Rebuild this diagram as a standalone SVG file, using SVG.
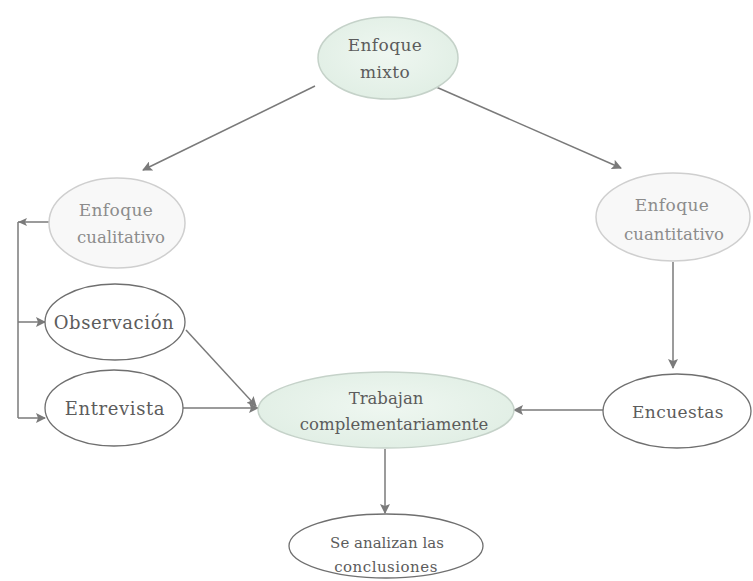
<svg xmlns="http://www.w3.org/2000/svg" width="753" height="581" viewBox="0 0 753 581">
<defs>
<radialGradient id="g" cx="50%" cy="45%" r="60%">
<stop offset="0" stop-color="#eff7f1"/>
<stop offset="1" stop-color="#e0eee4"/>
</radialGradient>
<marker id="ah" viewBox="0 0 10 10" refX="9" refY="5" markerWidth="10" markerHeight="10" markerUnits="userSpaceOnUse" orient="auto">
<path d="M0,0 L10,5 L0,10 L2,5 z" fill="#7a7a7a"/>
</marker>
<style>
.t{font-family:'DejaVu Serif',serif;fill:#5c5c5c;text-anchor:middle;font-size:16.5px}
.tl{fill:#8c8c8c}
.e{font-size:17px;letter-spacing:0.4px}
.big{font-size:18px;letter-spacing:0.6px}
.sm{font-size:15px}
.green{fill:url(#g);stroke:#c5d2c9;stroke-width:1.5}
.light{fill:#f8f8f8;stroke:#cfcfcf;stroke-width:1.5}
.plain{fill:#ffffff;stroke:#6f6f6f;stroke-width:1.3}
.c{fill:none;stroke:#7a7a7a;stroke-width:1.5}
</style>
</defs>
<rect width="753" height="581" fill="#ffffff"/>
<g id="connectors">
<line class="c" x1="315" y1="86" x2="143" y2="170" marker-end="url(#ah)"/>
<line class="c" x1="427" y1="83" x2="621" y2="168" marker-end="url(#ah)"/>
<line class="c" x1="673" y1="262" x2="673" y2="368" marker-end="url(#ah)"/>
<line class="c" x1="603" y1="410" x2="514" y2="410" marker-end="url(#ah)"/>
<line class="c" x1="183" y1="408" x2="258" y2="408" marker-end="url(#ah)"/>
<line class="c" x1="186" y1="330" x2="256" y2="406" marker-end="url(#ah)"/>
<line class="c" x1="385" y1="449" x2="385" y2="513" marker-end="url(#ah)"/>
<polyline class="c" points="49,222 18,222"/>
<path d="M18,222 L27,218 L25,222 L27,226 z" fill="#7a7a7a"/>
<polyline class="c" points="18,222 18,418"/>
<line class="c" x1="18" y1="322" x2="45" y2="322" marker-end="url(#ah)"/>
<line class="c" x1="18" y1="418" x2="45" y2="418" marker-end="url(#ah)"/>
</g>
<g id="mixto">
<ellipse class="green" cx="388" cy="58" rx="70" ry="41"/>
<text class="t e" x="385" y="51">Enfoque</text>
<text class="t e" x="385" y="78">mixto</text>
</g>
<g id="cualitativo">
<ellipse class="light" cx="117" cy="223" rx="68" ry="45"/>
<text class="t tl e" x="116" y="216">Enfoque</text>
<text class="t tl" x="121" y="243">cualitativo</text>
</g>
<g id="cuantitativo">
<ellipse class="light" cx="673" cy="217" rx="77" ry="44"/>
<text class="t tl e" x="672" y="211">Enfoque</text>
<text class="t tl" x="674" y="240">cuantitativo</text>
</g>
<g id="observacion">
<ellipse class="plain" cx="115" cy="322" rx="70" ry="38"/>
<text class="t big" x="114" y="329">Observación</text>
</g>
<g id="entrevista">
<ellipse class="plain" cx="114" cy="408" rx="69" ry="38"/>
<text class="t big" x="115" y="415">Entrevista</text>
</g>
<g id="encuestas">
<ellipse class="plain" cx="677" cy="411" rx="74" ry="37"/>
<text class="t e" x="678" y="418">Encuestas</text>
</g>
<g id="trabajan">
<ellipse class="green" cx="386" cy="410" rx="128" ry="38"/>
<text class="t" x="386" y="404">Trabajan</text>
<text class="t" x="394" y="430">complementariamente</text>
</g>
<g id="conclusiones">
<ellipse class="plain" cx="386" cy="546" rx="97" ry="32"/>
<text class="t sm" x="387" y="548">Se analizan las</text>
<text class="t sm" x="386" y="572" style="letter-spacing:0.5px">conclusiones</text>
</g>
</svg>
